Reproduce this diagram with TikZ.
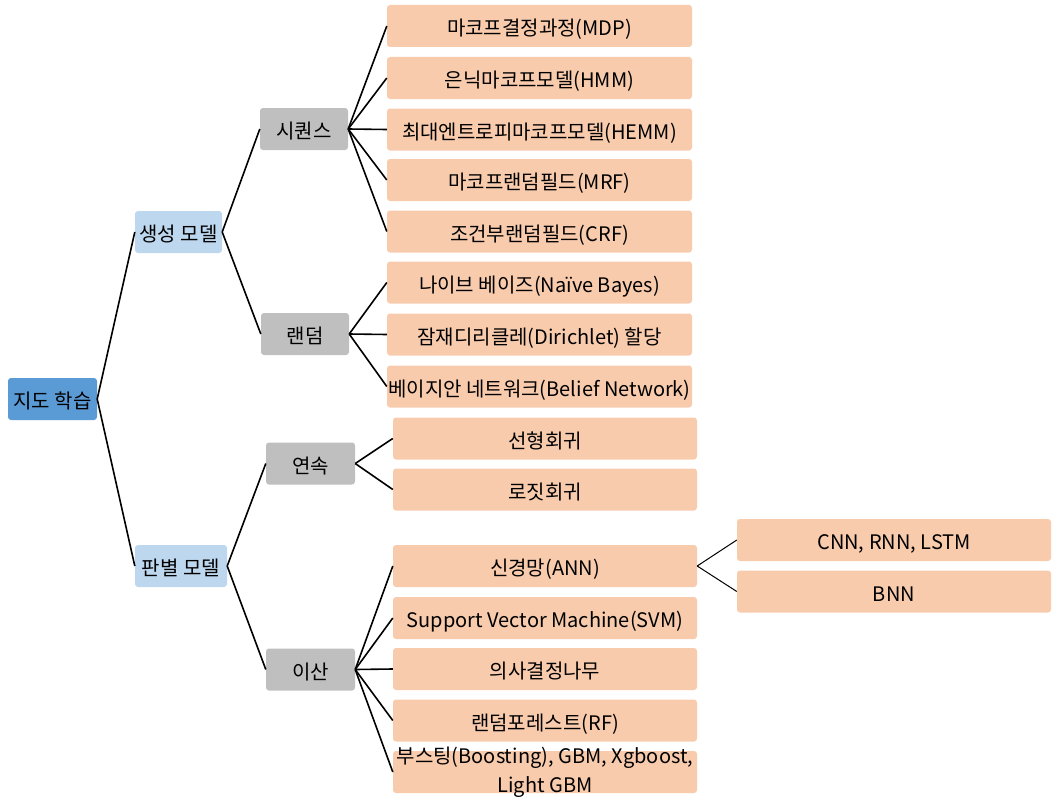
\documentclass[tikz,border=0pt]{standalone}
\usepackage{fontspec}
\setmainfont{Noto Sans CJK KR}
\definecolor{rootblue}{HTML}{5B9BD5}
\definecolor{lightblue}{HTML}{BDD7EE}
\definecolor{midgray}{HTML}{BFBFBF}
\definecolor{peach}{HTML}{F8CBAD}
\tikzset{
  box/.style={rectangle, rounded corners=3pt, inner sep=0pt, minimum height=42pt,
              text height=22pt, text depth=3pt,
              font=\fontsize{20}{28}\selectfont, text=black},
  rootbox/.style={box, fill=rootblue, minimum width=89pt},
  catbox/.style={box, fill=lightblue},
  subbox/.style={box, fill=midgray, minimum width=88pt},
  leafbox/.style={box, fill=peach, minimum width=305pt},
  link/.style={draw=black, line width=1.6pt},
  thinlink/.style={draw=black, line width=1pt}
}
\begin{document}
\begin{tikzpicture}[x=1pt, y=-1pt]
\useasboundingbox (0,0) rectangle (1052,800);

% root and first level
\node[rootbox] (root) at (52.5,399) {지도 학습};
\node[catbox, minimum width=87pt] (gen) at (178.5,232) {생성 모델};
\node[catbox, minimum width=92pt] (disc) at (181,566) {판별 모델};

% second level
\node[subbox] (seq) at (304,129) {시퀀스};
\node[subbox] (rnd) at (305,334) {랜덤};
\node[subbox, minimum width=89pt] (cont) at (310.5,463.5) {연속};
\node[subbox, minimum width=89pt] (disr) at (310.5,669.5) {이산};

% sequence models
\node[leafbox] (mdp)  at (539.5,26)  {마코프결정과정(MDP)};
\node[leafbox] (hmm)  at (539.5,78)  {은닉마코프모델(HMM)};
\node[leafbox] (hemm) at (539.5,129.5) {최대엔트로피마코프모델(HEMM)};
\node[leafbox] (mrf)  at (539.5,180) {마코프랜덤필드(MRF)};
\node[leafbox] (crf)  at (539.5,231.5) {조건부랜덤필드(CRF)};

% random models
\node[leafbox] (nb)   at (539.5,282.5) {나이브 베이즈(Naïve Bayes)};
\node[leafbox] (lda)  at (539.5,334.5) {잠재디리클레(Dirichlet) 할당};
\node[leafbox] (bn)   at (539.5,386.5) {베이지안 네트워크(Belief Network)};

% continuous
\node[leafbox, minimum width=304pt] (lin) at (545,438.5) {선형회귀};
\node[leafbox, minimum width=304pt] (logit) at (545,489.5) {로짓회귀};

% discrete
\node[leafbox, minimum width=304pt] (ann)  at (545,566) {신경망(ANN)};
\node[leafbox, minimum width=304pt] (svm)  at (545,618) {Support Vector Machine(SVM)};
\node[leafbox, minimum width=304pt] (dt)   at (545,669) {의사결정나무};
\node[leafbox, minimum width=304pt] (rf)   at (545,720.5) {랜덤포레스트(RF)};
\node[leafbox, minimum width=304pt] (boost) at (545,772)
  {\raisebox{3.5pt}[0pt][0pt]{\begin{tabular}{@{}c@{}}부스팅(Boosting), GBM, Xgboost,\\[1pt] Light GBM\end{tabular}}};

% neural network variants
\node[leafbox, minimum width=314pt] (cnn) at (894,540) {CNN, RNN, LSTM};
\node[leafbox, minimum width=314pt] (bnn) at (894,591.5) {BNN};

% connectors
\foreach \c in {gen,disc} \path[link] (root.east) -- (\c.west);
\foreach \c in {seq,rnd} \path[link] (gen.east) -- (\c.west);
\foreach \c in {cont,disr} \path[link] (disc.east) -- (\c.west);
\foreach \c in {mdp,hmm,hemm,mrf,crf} \path[link] (seq.east) -- (\c.west);
\foreach \c in {nb,lda,bn} \path[link] (rnd.east) -- (\c.west);
\foreach \c in {lin,logit} \path[link] (cont.east) -- (\c.west);
\foreach \c in {ann,svm,dt,rf,boost} \path[link] (disr.east) -- (\c.west);
\foreach \c in {cnn,bnn} \path[thinlink] (ann.east) -- (\c.west);
\end{tikzpicture}
\end{document}
